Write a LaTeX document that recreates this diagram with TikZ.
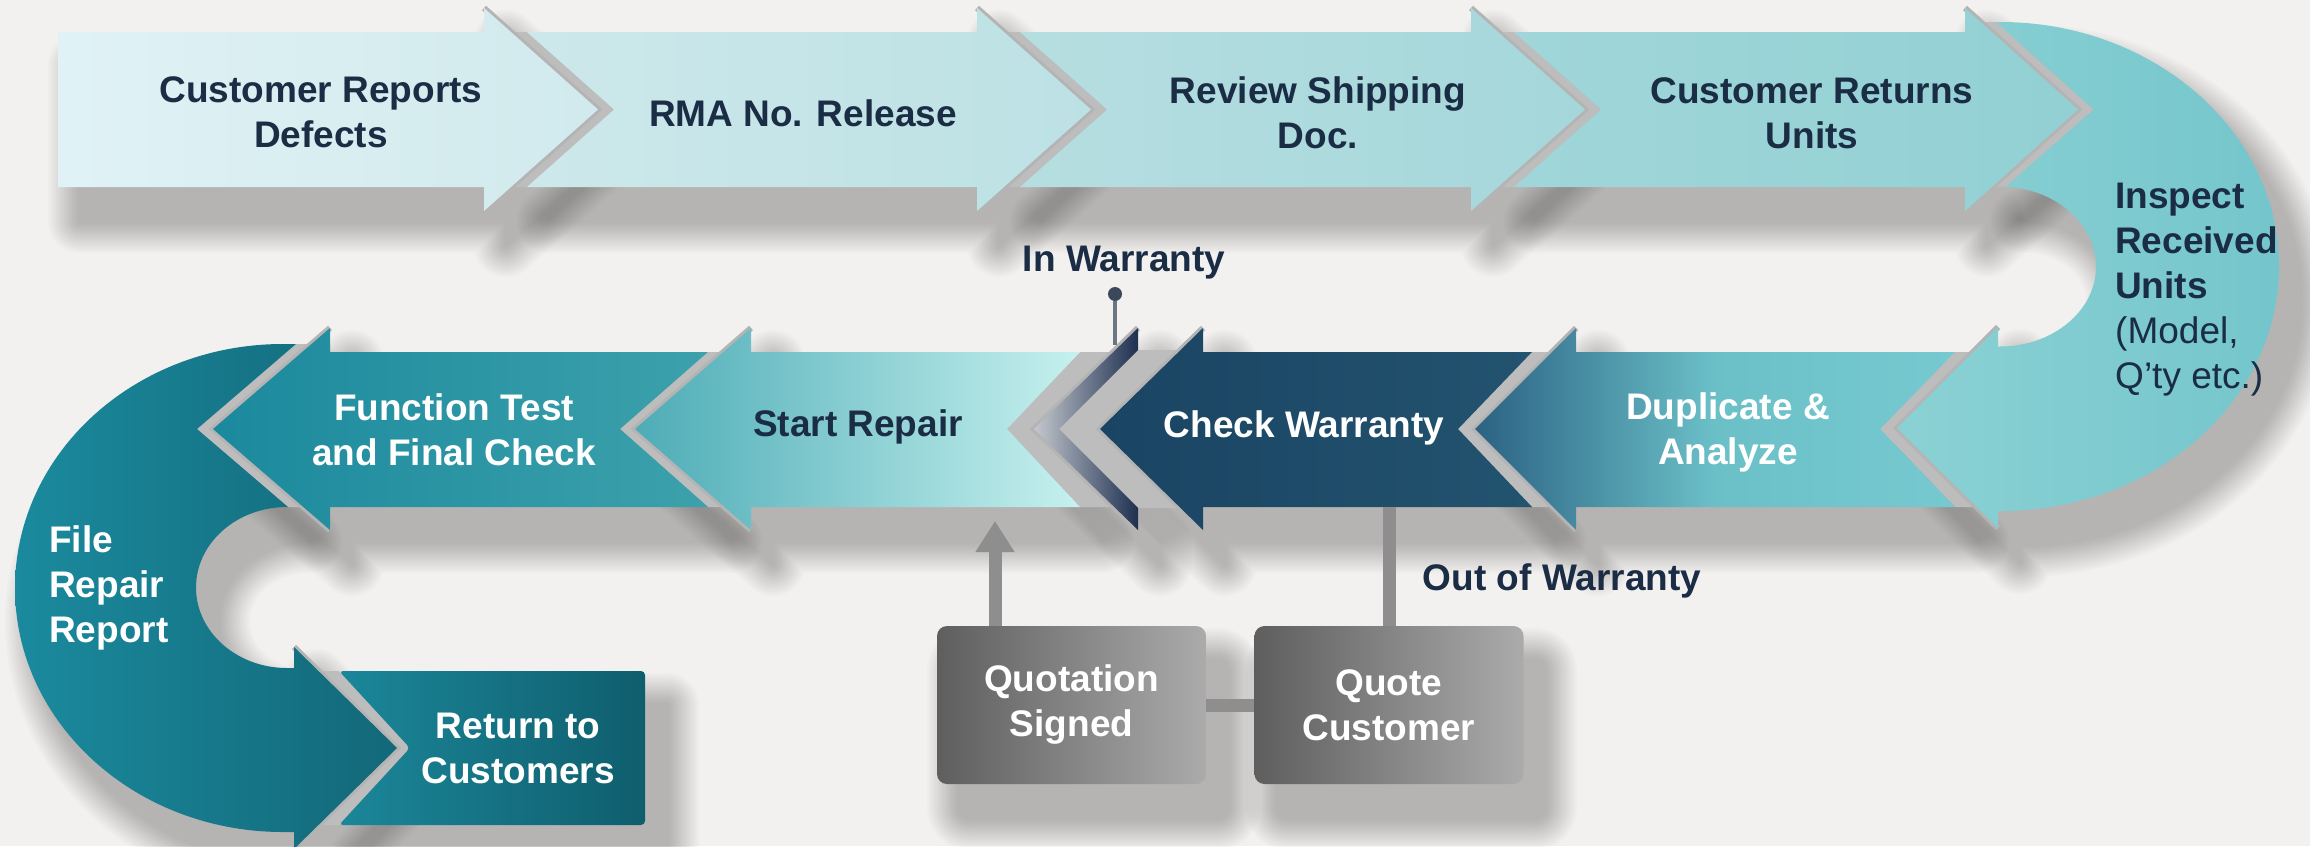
\documentclass[tikz,border=0pt]{standalone}
\usepackage{fontspec}
\setmainfont{Liberation Sans}
\usetikzlibrary{arrows.meta}
\definecolor{bg}{HTML}{F2F1EF}
\definecolor{ink}{HTML}{1B2C45}
\definecolor{gapc}{HTML}{BDBDBD}
\definecolor{edgec}{HTML}{B4B4B4}
\definecolor{tAL}{HTML}{E0F2F5}\definecolor{tAR}{HTML}{D1EAED}
\definecolor{tBL}{HTML}{CDE8EB}\definecolor{tBR}{HTML}{BCE1E4}
\definecolor{tCL}{HTML}{B6DEE1}\definecolor{tCR}{HTML}{A5D7DA}
\definecolor{tDL}{HTML}{A0D6D9}\definecolor{tDR}{HTML}{92D0D4}
\definecolor{ruL}{HTML}{8BD1D4}\definecolor{ruR}{HTML}{74C6CC}
\definecolor{dupL}{HTML}{2B6283}\definecolor{dupM}{HTML}{6BC0C8}\definecolor{dupR}{HTML}{76C9CF}
\definecolor{cwL}{HTML}{1A4463}\definecolor{cwR}{HTML}{22536F}
\definecolor{chL}{HTML}{C4C8CE}\definecolor{chR}{HTML}{1E3050}
\definecolor{srL}{HTML}{4EACB7}\definecolor{srR}{HTML}{C6F1EE}
\definecolor{ftL}{HTML}{1B899D}\definecolor{ftR}{HTML}{3CA1AB}
\definecolor{luL}{HTML}{1B8A9E}\definecolor{luR}{HTML}{126878}
\definecolor{rbL}{HTML}{1B879A}\definecolor{rbR}{HTML}{0F5E6D}
\definecolor{qL}{HTML}{5E5E5E}\definecolor{qR}{HTML}{ABABAB}
\definecolor{barc}{HTML}{8E8E8E}
\definecolor{dotc}{HTML}{3A4859}

\newcommand\pthA{(58,32) -- (484,32) -- (484,8) -- (598,109.5) -- (484,211) -- (484,187) -- (58,187) -- cycle}
\newcommand\pthB{(527,32) -- (977,32) -- (977,8) -- (1091,109.5) -- (977,211) -- (977,187) -- (527,187) -- (614,109.5) -- cycle}
\newcommand\pthC{(1020,32) -- (1471,32) -- (1471,8) -- (1585,109.5) -- (1471,211) -- (1471,187) -- (1020,187) -- (1107,109.5) -- cycle}
\newcommand\pthD{(1514,32) -- (1965,32) -- (1965,8) -- (2078,109.5) -- (1965,211) -- (1965,187) -- (1514,187) -- (1601,109.5) -- cycle}
\newcommand\pthRU{(1996,22) -- (2000,22) arc[start angle=-90,end angle=90,x radius=279,y radius=244.5] -- (1998,511) -- (1998,528) -- (1897,428) -- (1998,327) -- (1998,346.5) -- (2000,346.5) arc[start angle=90,end angle=-90,x radius=96,y radius=80] -- (2006,186.5) -- (2094,109.5) -- cycle}
\newcommand\pthDA{(1955,352) -- (1576,352) -- (1576,328) -- (1475,429) -- (1576,530) -- (1576,507) -- (1955,507) -- (1880,429) -- cycle}
\newcommand\pthCW{(1532,352) -- (1203,352) -- (1203,328) -- (1100,429) -- (1203,530) -- (1203,507) -- (1532,507) -- (1458,429) -- cycle}
\newcommand\pthCH{(1138,328) -- (1034,429) -- (1138,530) -- (1138,508) -- (1059,429) -- (1138,350) -- cycle}
\newcommand\pthSR{(1080,352) -- (751,352) -- (751,328) -- (635,429) -- (751,530) -- (751,507) -- (1080,507) -- (1007,429) -- cycle}
\newcommand\pthFT{(708,352) -- (330,352) -- (330,328) -- (213,429) -- (330,530) -- (330,507) -- (708,507) -- (620,429) -- cycle}
\newcommand\pthLU{(296,344) -- (283,344) arc[start angle=-90,end angle=-270,x radius=268,y radius=244] -- (294,832) -- (294,849) -- (397,748) -- (294,647) -- (294,668) -- (287,668) arc[start angle=90,end angle=270,x radius=91,y radius=80.5] -- (288,507) -- (197,429) -- cycle}
\newcommand\pthRB{(339,671) -- (645,671) -- (645,825) -- (339,825) -- (410,748) -- cycle}

% layered soft shadow
\newcommand\mysoftshadow[1]{%
  \foreach \w in {64,60,...,4} {%
    \begin{scope}[transparency group, opacity=0.016, shift={(22,34)}]
      \path[fill=black, draw=black, line width=\w pt, line join=round] #1;
    \end{scope}
  }}

\begin{document}
\begin{tikzpicture}[x=1pt,y=-1pt,
  lbl/.style={font=\bfseries\fontsize{37}{45}\selectfont, align=center, text=ink, inner sep=0pt},
  wlbl/.style={lbl, text=white},
  gap/.style={fill=gapc},
  edge/.style={draw=edgec, line width=6pt, line join=miter},
  bar/.style={line width=13pt, draw=barc},
  qbox/.style={wlbl, minimum width=269pt, minimum height=158pt, rounded corners=10pt, left color=qL, right color=qR}
]
\fill[bg] (0,0) rectangle (2310,846);
\useasboundingbox (0,0) rectangle (2310,846);

% shadows
\mysoftshadow{\pthA}
\mysoftshadow{\pthB}
\mysoftshadow{\pthC}
\mysoftshadow{\pthD}
\mysoftshadow{\pthRU}
\mysoftshadow{\pthDA}
\mysoftshadow{\pthCW}
\mysoftshadow{\pthCH}
\mysoftshadow{\pthSR}
\mysoftshadow{\pthFT}
\mysoftshadow{\pthLU}
\mysoftshadow{\pthRB}
\mysoftshadow{[rounded corners=10pt] (937,626) rectangle (1206,784)}
\mysoftshadow{[rounded corners=10pt] (1255,626) rectangle (1523,784)}

% grey gaps between neighbouring shapes
\fill[gap] (484,32) -- (527,32) -- (614,109.5) -- (527,187) -- (484,187) -- cycle;
\fill[gap] (977,32) -- (1020,32) -- (1107,109.5) -- (1020,187) -- (977,187) -- cycle;
\fill[gap] (1471,32) -- (1514,32) -- (1601,109.5) -- (1514,187) -- (1471,187) -- cycle;
\fill[gap] (1965,22) -- (1996,22) -- (2094,109.5) -- (2006,186.5) -- (1965,187) -- cycle;
\fill[gap] (1998,352) -- (1955,352) -- (1880,429) -- (1955,507) -- (1998,507) -- cycle;
\fill[gap] (1576,352) -- (1532,352) -- (1458,429) -- (1532,507) -- (1576,507) -- cycle;
\fill[gap] (1203,350) -- (1138,350) -- (1059,429) -- (1138,508) -- (1203,508) -- cycle;
\fill[gap] (1138,352) -- (1080,352) -- (1007,429) -- (1080,507) -- (1138,507) -- cycle;
\fill[gap] (751,352) -- (708,352) -- (620,429) -- (708,507) -- (751,507) -- cycle;
\fill[gap] (330,344) -- (296,344) -- (197,429) -- (288,507) -- (330,507) -- cycle;
\fill[gap] (294,671) -- (339,671) -- (410,748) -- (339,825) -- (294,825) -- cycle;
% thin grey bevel along the leading edges of the heads
\draw[edge] (484,8) -- (598,109.5) -- (484,211);
\draw[edge] (977,8) -- (1091,109.5) -- (977,211);
\draw[edge] (1471,8) -- (1585,109.5) -- (1471,211);
\draw[edge] (1965,8) -- (2078,109.5) -- (1965,211);
\draw[edge] (1998,327) -- (1897,428) -- (1998,528);
\draw[edge] (1576,328) -- (1475,429) -- (1576,530);
\draw[edge] (1203,328) -- (1100,429) -- (1203,530);
\draw[edge] (1138,328) -- (1034,429) -- (1138,530);
\draw[edge] (751,328) -- (635,429) -- (751,530);
\draw[edge] (330,328) -- (213,429) -- (330,530);
\draw[edge] (294,647) -- (397,748) -- (294,849);

% shapes
\path[left color=ruL, right color=ruR] \pthRU;
\path[left color=tAL, right color=tAR] \pthA;
\path[left color=tBL, right color=tBR] \pthB;
\path[left color=tCL, right color=tCR] \pthC;
\path[left color=tDL, right color=tDR] \pthD;
\path[left color=dupL, right color=dupR, middle color=dupM] \pthDA;
\path[left color=cwL, right color=cwR] \pthCW;
\path[left color=chL, right color=chR] \pthCH;
\path[left color=srL, right color=srR] \pthSR;
\path[left color=ftL, right color=ftR] \pthFT;
\path[left color=luL, right color=luR] \pthLU;
\path[left color=rbL, right color=rbR, rounded corners=4pt] \pthRB;

% labels on shapes
\node[lbl] (crd) at (321,112) {Customer Reports\\Defects};
\node[lbl] (rma) at (803,113) {RMA No. Release};
\node[lbl] (rsd) at (1318,113) {Review Shipping\\Doc.};
\node[lbl] (cru) at (1812,113) {Customer Returns\\Units};
\node[lbl, align=left, anchor=west] (iru) at (2115,290) {Inspect\\Received\\Units\\\mdseries(Model,\\\mdseries Q’ty etc.)};
\node[wlbl] (dup) at (1728,432) {Duplicate \&\\Analyze};
\node[wlbl] (cw) at (1304,428) {Check Warranty};
\node[lbl] (sr) at (858,427) {Start Repair};
\node[wlbl] (ft) at (454,430) {Function Test\\and Final Check};
\node[wlbl, align=left, anchor=west] (frr) at (49,588) {File\\Repair\\Report};
\node[wlbl] (rtc) at (518,748) {Return to\\Customers};

% warranty branches
\node[lbl] (inw) at (1124,263) {In Warranty};
\node[circle, fill=dotc, minimum size=14pt, inner sep=0pt] (iwdot) at (1115,294) {};
\coordinate (iwend) at (1115,345);
\draw[line width=4pt, draw=dotc!75] (iwdot) -- (iwend);
\node[lbl] (outw) at (1562,581) {Out of Warranty};

\node[qbox] (qs) at (1071.5,705) {Quotation\\Signed};
\node[qbox] (qc) at (1389,705) {Quote\\Customer};
\coordinate (cwb) at (1389,507);
\coordinate (srb) at (995,521);
\draw[bar] (cwb) -- (qc.north);
\draw[bar] (qs.east) -- (qc.west);
\draw[bar, -{Triangle[width=37pt,length=31pt]}] (srb |- qs.north) -- (srb);
\end{tikzpicture}
\end{document}
